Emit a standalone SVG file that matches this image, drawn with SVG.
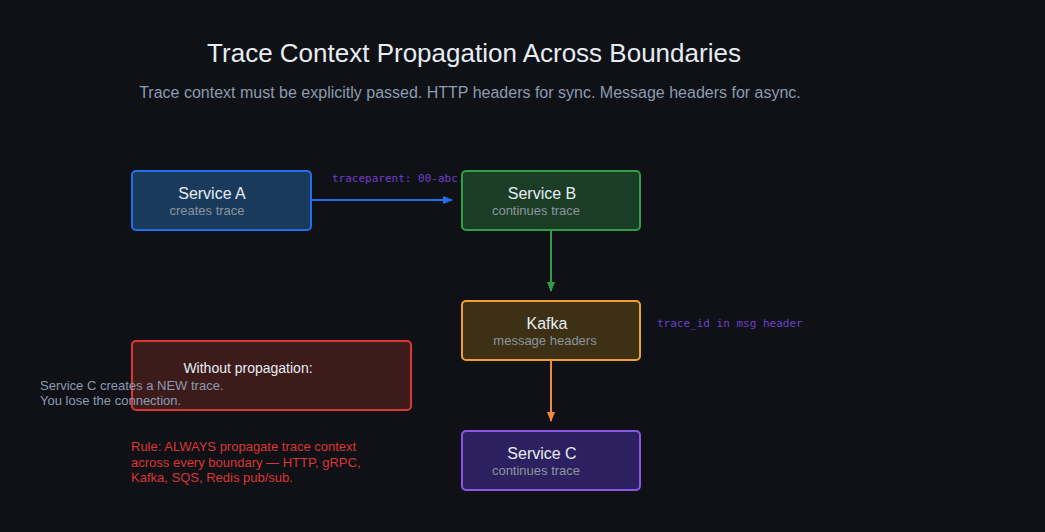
<svg xmlns="http://www.w3.org/2000/svg" width="1045" height="532" viewBox="0 0 1045 532">
<style>
text{font-family:"Liberation Sans",Arial,sans-serif}
.t{font-size:16px;fill:#e6edf3;text-anchor:middle}
.s{font-size:13px;fill:#8b949e;text-anchor:middle}
.m{font-family:"DejaVu Sans Mono",monospace;font-size:11px;fill:#6e40c9}
</style>
<defs>
<marker id="ab" markerWidth="10" markerHeight="8" refX="9" refY="4" orient="auto" markerUnits="userSpaceOnUse"><path d="M0,0L10,4L0,8z" fill="#1f6feb"/></marker>
<marker id="ag" markerWidth="8" markerHeight="10" refX="4" refY="9" orient="0" markerUnits="userSpaceOnUse"><path d="M0,0L8,0L4,10z" fill="#2ea043"/></marker>
<marker id="ao" markerWidth="8" markerHeight="10" refX="4" refY="9" orient="0" markerUnits="userSpaceOnUse"><path d="M0,0L8,0L4,10z" fill="#f0883e"/></marker>
</defs>
<rect width="1045" height="532" fill="#0f1117"/>
<text x="474" y="62" font-size="26" fill="#e6edf3" text-anchor="middle">Trace Context Propagation Across Boundaries</text>
<text x="470" y="98" font-size="16" fill="#8b9bb0" text-anchor="middle">Trace context must be explicitly passed. HTTP headers for sync. Message headers for async.</text>
<g id="connectors" stroke-width="2" fill="none">
<line x1="312" y1="200" x2="452" y2="200" stroke="#1f6feb" marker-end="url(#ab)"/>
<line x1="551" y1="230" x2="551" y2="291" stroke="#2ea043" marker-end="url(#ag)"/>
<line x1="551" y1="360" x2="551" y2="421" stroke="#f0883e" marker-end="url(#ao)"/>
<text class="m" x="332" y="182" stroke="none">traceparent: 00-abc...</text>
<text class="m" x="657" y="327" stroke="none">trace_id in msg header</text>
</g>
<g id="serviceA"><rect x="132" y="171" width="179" height="59" rx="4" fill="#1a3a5c" stroke="#1f6feb" stroke-width="2"/><text class="t" x="212" y="199">Service A</text><text class="s" x="207" y="215">creates trace</text></g>
<g id="serviceB"><rect x="462" y="171" width="178" height="59" rx="4" fill="#1b3d26" stroke="#2ea043" stroke-width="2"/><text class="t" x="542" y="199">Service B</text><text class="s" x="536" y="215">continues trace</text></g>
<g id="kafka"><rect x="462" y="301" width="178" height="59" rx="4" fill="#3d3015" stroke="#f0a030" stroke-width="2"/><text class="t" x="547" y="329">Kafka</text><text class="s" x="545" y="345">message headers</text></g>
<g id="serviceC"><rect x="462" y="431" width="178" height="59" rx="4" fill="#2d2060" stroke="#8957e5" stroke-width="2"/><text class="t" x="542" y="459">Service C</text><text class="s" x="536" y="475">continues trace</text></g>
<g id="warning"><rect x="132" y="341" width="279" height="69" rx="4" fill="#3d1b1b" stroke="#da3633" stroke-width="2"/>
<text x="248" y="373" font-size="14" fill="#e6edf3" text-anchor="middle">Without propagation:</text>
<text x="40" y="390" font-size="13" fill="#8b9bb0">Service C creates a NEW trace.</text>
<text x="40" y="405" font-size="13" fill="#8b9bb0">You lose the connection.</text></g>
<g id="rule" font-size="13" fill="#da3633">
<text x="131" y="451">Rule: ALWAYS propagate trace context</text>
<text x="131" y="467">across every boundary — HTTP, gRPC,</text>
<text x="131" y="482">Kafka, SQS, Redis pub/sub.</text></g>
</svg>
